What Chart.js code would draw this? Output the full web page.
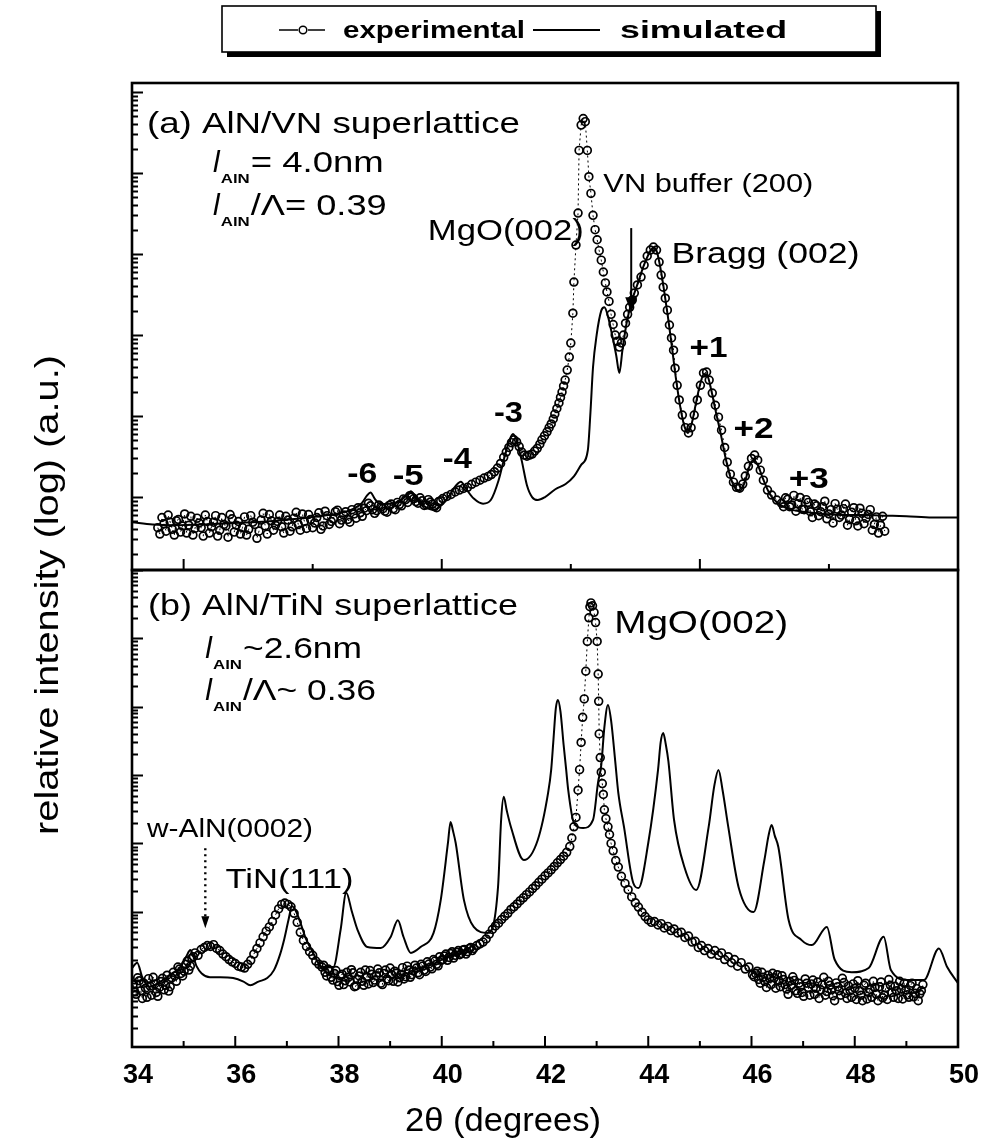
<!DOCTYPE html>
<html lang="en">
<head>
<meta charset="UTF-8">
<title>XRD scans of AlN/VN and AlN/TiN superlattices</title>
<script src="https://cdn.jsdelivr.net/npm/chart.js"></script>
<style>
  body { margin: 0; background: #fff; }
  #wrap { position: relative; width: 987px; height: 1148px; }
  #wrap canvas { position: absolute; left: 0; top: 0; }
</style>
</head>
<body>
<div id="wrap">
  <canvas id="panel-a" width="987" height="1148"></canvas>
  <canvas id="panel-b" width="987" height="1148"></canvas>
</div>
<script>
// ---- data: [2theta (deg), intensity (a.u.)]; rows are sorted by angle when plotted ----
const expA = [
  [34.50,4.2],[34.58,5.6],[34.66,3.8],[34.74,4.9],[34.82,3.4],[34.90,5.3],[34.98,4.4],[35.06,3.6],[35.14,5.8],[35.22,4.1],
  [35.30,4.8],[35.38,3.3],[35.46,5.0],[35.54,4.3],[35.62,5.9],[35.70,3.9],[35.78,4.6],[35.86,3.2],[35.94,5.4],[36.02,4.5],
  [36.10,3.5],[36.18,5.7],[36.26,4.0],[36.34,4.9],[36.42,3.1],[36.50,5.2],[36.58,4.4],[36.66,6.1],[36.74,3.9],[36.82,5.0],
  [36.90,4.3],[36.98,5.8],[37.06,3.8],[37.14,5.5],[37.22,4.6],[37.30,6.2],[37.38,4.1],[37.46,5.3],[37.54,4.8],[37.62,6.4],
  [37.70,4.4],[37.78,5.9],[37.86,5.0],[37.94,6.6],[38.02,4.7],[38.10,6.0],[38.18,5.3],[38.26,7.0],[38.34,5.5],[38.42,6.4],
  [38.50,7.3],[38.58,8.4],[38.66,7.0],[38.74,6.8],[38.82,7.6],[38.90,6.7],[38.98,7.9],[39.06,7.2],[39.14,8.6],[39.22,7.8],
  [39.30,9.3],[39.38,10.4],[39.46,9.6],[39.54,8.4],[39.62,9.0],[39.70,8.0],[39.78,8.7],[39.86,7.6],[39.94,8.8],[40.02,9.6],
  [40.10,10.2],[40.18,10.8],[40.26,11.6],[40.34,12.2],[40.42,12.8],[40.50,13.2],[40.58,14.4],[40.66,15.3],[40.74,16.2],[40.82,17.2],
  [40.90,18.0],[40.96,19.0],[41.02,20.5],[41.08,22.8],[41.14,26],[41.20,31],[41.25,36],[41.30,41],[41.35,47],[41.40,51],
  [41.45,48],[41.50,42],[41.55,36],[41.60,33],[41.65,32],[41.70,33],[41.75,34],[41.80,37],[41.85,40],[41.90,45],
  [41.94,51],[41.99,57],[42.04,64],[42.08,72],[42.12,80],[42.16,92],[42.19,106],[42.23,124],[42.27,145],[42.30,170],
  [42.33,198],[42.36,235],[42.39,278],[42.43,370],[42.47,535],[42.50,795],[42.54,1860],[42.56,4500],[42.60,12900],[42.64,32000],
  [42.66,190000],[42.70,390000],[42.74,470000],[42.78,430000],[42.82,190000],[42.85,90000],[42.89,56000],[42.93,30000],[42.97,20000],[43.01,15000],
  [43.05,11000],[43.09,8400],[43.13,6000],[43.17,4400],[43.20,3400],[43.24,2600],[43.28,1800],[43.32,1350],[43.36,1000],[43.40,840],
  [43.44,710],[43.48,800],[43.52,1000],[43.56,1400],[43.60,1800],[43.64,2200],[43.69,2700],[43.73,3300],[43.79,4150],[43.86,5200],
  [43.92,7300],[43.98,9450],[44.04,11200],[44.10,12200],[44.16,11200],[44.21,7950],[44.25,5500],[44.29,3900],[44.33,2850],[44.37,2030],
  [44.41,1330],[44.45,920],[44.49,650],[44.52,390],[44.56,240],[44.60,158],[44.66,103],[44.72,72],[44.78,62],[44.83,72],
  [44.89,103],[44.95,158],[45.01,240],[45.07,340],[45.13,350],[45.18,278],[45.24,192],[45.30,136],[45.36,97],[45.42,67],
  [45.48,41],[45.53,27],[45.59,19.2],[45.65,15.3],[45.71,13.2],[45.77,12.9],[45.83,14.5],[45.88,18.2],[45.94,24],[46.00,30],
  [46.06,33],[46.12,28.6],[46.17,21.5],[46.23,16.2],[46.31,12.2],[46.39,10.6],[46.49,9.2],[46.58,8.4],[46.66,9.8],[46.74,7.6],
  [46.82,10.5],[46.90,8.3],[46.98,7.1],[47.06,9.3],[47.14,6.6],[47.22,8.2],[47.30,5.9],[47.38,7.6],[47.46,5.4],[47.54,7.0],
  [47.62,8.3],[47.70,5.6],[47.78,7.2],[47.86,4.5],[47.94,6.5],[48.02,5.1],[48.10,7.3],[48.18,4.7],[48.26,6.1],[48.34,3.9],
  [48.42,5.7],[48.50,4.5],[48.58,3.8],
  // in-between readings across the noisy background
  [34.54,3.5],[34.62,4.7],[34.70,6.0],[34.78,4.0],[34.86,5.1],[34.94,3.7],[35.02,6.2],[35.10,4.5],[35.18,3.4],[35.26,5.5],
  [35.34,4.2],[35.42,6.0],[35.50,3.6],[35.58,4.9],[35.66,3.3],[35.74,5.6],[35.82,4.4],[35.90,6.1],[35.98,3.7],[36.06,5.0],
  [36.14,4.2],[36.22,3.4],[36.30,5.9],[36.38,4.6],[36.46,3.8],[36.54,6.3],[36.62,3.5],[36.70,5.1],[36.78,4.5],[36.86,6.0],
  [36.94,3.6],[37.02,5.2],[37.10,4.3],[37.18,6.5],[37.26,3.9],[37.34,5.0],[37.42,6.1],[37.50,4.2],[37.58,5.6],[37.66,4.0],
  [37.74,6.7],[37.82,4.6],[37.90,5.4],[37.98,6.9],[38.06,5.2],[38.14,6.6],[38.22,4.9],[38.30,6.2],[38.38,7.4],[38.46,5.8],
  [38.54,6.8],[38.62,7.8],[38.70,6.3],[38.78,8.0],[38.86,7.2],[38.94,6.5],[39.02,8.2],[39.10,7.0],[39.18,8.1],[39.26,9.5],
  [39.34,8.6],[39.42,10.0],[39.50,8.8],[39.58,9.8],[39.66,7.9],[39.74,9.3],[39.82,8.2],[39.90,7.4],[39.98,9.0],
  [46.62,7.6],[46.70,9.4],[46.78,8.0],[46.86,6.7],[46.94,9.9],[47.02,7.0],[47.10,8.6],[47.18,5.6],[47.26,7.8],[47.34,6.6],
  [47.42,8.9],[47.50,6.2],[47.58,4.8],[47.66,7.1],[47.74,6.0],[47.82,8.2],[47.90,5.3],[47.98,7.4],[48.06,4.4],[48.14,6.3],
  [48.22,5.5],[48.30,7.0],[48.38,4.6],[48.46,3.6],[48.54,5.8]
];

const simA = [
  [34.00,4.9],[34.40,4.6],[34.80,4.5],[35.40,4.6],[36.00,4.8],[36.60,5.0],[37.20,5.4],[37.80,6.0],[38.20,6.8],[38.45,8.4],
  [38.55,10.4],[38.62,11.4],[38.70,9.6],[38.80,8.2],[39.00,8.3],[39.20,9.0],[39.32,10.6],[39.40,11.8],[39.50,9.8],[39.65,7.8],
  [39.84,7.0],[40.00,8.0],[40.15,10.5],[40.28,14.0],[40.37,15.5],[40.48,12.4],[40.62,9.6],[40.80,8.3],[40.95,9.2],[41.10,16],
  [41.22,32],[41.30,48],[41.38,60],[41.45,50],[41.55,28],[41.65,14],[41.75,10],[41.86,9.2],[42.00,10.0],[42.20,12.5],
  [42.40,14.5],[42.56,18],[42.70,25],[42.83,38],[42.88,110],[42.93,400],[43.00,1000],[43.09,2000],[43.15,2200],[43.22,1700],
  [43.30,1000],[43.38,560],[43.44,340],[43.50,650],[43.58,1400],[43.68,2600],[43.80,4400],[43.92,7400],[44.04,10800],[44.10,12000],
  [44.17,10500],[44.24,6500],[44.30,3800],[44.38,1700],[44.46,700],[44.54,280],[44.62,130],[44.70,75],[44.77,62],[44.84,80],
  [44.92,140],[45.00,240],[45.08,330],[45.14,320],[45.22,210],[45.30,120],[45.40,62],[45.50,30],[45.60,17],[45.70,12.5],
  [45.78,12],[45.88,16],[45.96,24],[46.04,29],[46.12,25],[46.22,17],[46.35,11],[46.50,8.5],[46.70,7.2],[47.00,6.6],
  [47.40,6.2],[47.80,6.0],[48.20,6.0],[48.60,5.9],[49.00,5.8],[49.50,5.6],[50.00,5.6]
];

const expB = [
  [34.02,8.5],[34.08,6.2],[34.14,9.8],[34.20,5.4],[34.26,7.6],[34.32,10.5],[34.38,6.0],[34.44,8.8],[34.50,5.8],[34.56,9.5],
  [34.62,7.2],[34.68,11.8],[34.74,8.0],[34.80,13.0],[34.86,9.6],[34.92,14.5],[34.98,11.5],[35.04,17],[35.10,14],[35.16,21],
  [35.22,25],[35.28,23],[35.34,28],[35.40,30],[35.46,32],[35.52,31],[35.58,33],[35.64,29],[35.70,27],[35.76,24],
  [35.82,22],[35.88,20],[35.94,18.5],[36.00,17.5],[36.06,16],[36.12,15.5],[36.18,15],[36.24,17],[36.30,19.5],[36.36,24],
  [36.42,29],[36.48,35],[36.54,43],[36.60,52],[36.66,60],[36.72,72],[36.78,90],[36.84,110],[36.90,128],[36.96,134],
  [37.02,128],[37.08,118],[37.14,95],[37.20,70],[37.26,50],[37.32,38],[37.38,31],[37.44,26],[37.50,23],[37.56,19],
  [37.62,17],[37.68,15.5],[37.74,13],[37.80,14.5],[37.86,11],[37.92,12.5],[37.98,9.5],[38.04,11.5],[38.10,8.6],[38.16,13],
  [38.22,9.4],[38.28,12.8],[38.34,8.2],[38.40,11.5],[38.46,9.6],[38.52,14],[38.58,8.8],[38.64,12.2],[38.70,10.0],[38.76,14.5],
  [38.82,9.0],[38.88,12.5],[38.94,10.4],[39.00,15],[39.06,9.6],[39.12,12.6],[39.18,10.8],[39.24,15.2],[39.30,11.2],[39.36,14],
  [39.42,12.0],[39.48,16.5],[39.54,12.8],[39.60,17],[39.66,14],[39.72,18.5],[39.78,15.5],[39.84,20],[39.90,17],[39.96,22],
  [40.02,20],[40.08,24],[40.14,21.5],[40.20,26],[40.26,23],[40.32,27],[40.38,24.5],[40.44,28],[40.50,26],[40.56,30],
  [40.62,29],[40.68,32],[40.74,34],[40.80,36],[40.86,40],[40.92,47],[40.98,55],[41.04,62],[41.10,68],[41.16,77],
  [41.22,86],[41.28,95],[41.34,108],[41.40,118],[41.46,130],[41.52,145],[41.58,160],[41.64,178],[41.70,195],[41.76,218],
  [41.82,240],[41.88,270],[41.94,300],[42.00,335],[42.06,370],[42.12,410],[42.18,460],[42.24,520],[42.30,580],[42.36,650],
  [42.42,740],[42.48,900],[42.52,1200],[42.56,1750],[42.60,2400],[42.64,6000],[42.67,12000],[42.70,30000],[42.73,70000],[42.76,130000],
  [42.79,330000],[42.82,900000],[42.85,2000000],[42.87,2900000],[42.89,3300000],[42.92,3000000],[42.95,2400000],[42.98,1700000],[43.01,900000],[43.03,300000],
  [43.04,120000],[43.05,40000],[43.07,18000],[43.09,11000],[43.11,7500],[43.13,5200],[43.15,3100],[43.18,2300],[43.22,1750],[43.25,1350],
  [43.28,1000],[43.32,780],[43.37,560],[43.42,450],[43.48,330],[43.55,260],[43.61,210],[43.68,165],[43.75,135],[43.81,117],
  [43.88,98],[43.94,85],[44.00,76],[44.06,70],[44.12,72],[44.19,64],[44.25,67],[44.31,58],[44.38,61],[44.44,53],
  [44.50,56],[44.57,49],[44.64,50],[44.71,42],[44.78,44],[44.85,36],[44.91,37],[44.97,30],[45.03,32],[45.09,27],
  [45.16,29],[45.22,24],[45.29,27],[45.36,23],[45.42,25],[45.48,20],[45.55,22],[45.61,18],[45.67,20],[45.73,16],
  [45.80,18],[45.88,14.5],[45.95,15.5],[46.02,12],[46.08,12.5],[46.14,10.2],[46.20,13.0],[46.26,9.5],[46.32,11.8],[46.38,8.6],
  [46.44,10.8],[46.50,12.0],[46.56,8.0],[46.62,10.2],[46.68,7.4],[46.74,9.6],[46.80,11.2],[46.86,7.0],[46.92,9.0],[46.98,6.6],
  [47.04,10.4],[47.10,7.8],[47.16,8.8],[47.22,6.2],[47.28,9.4],[47.34,7.2],[47.40,11.0],[47.46,6.8],[47.52,8.4],[47.58,5.9],
  [47.64,9.1],[47.70,7.0],[47.76,10.6],[47.82,6.4],[47.88,8.2],[47.94,5.6],[48.00,7.6],[48.06,9.8],[48.12,6.0],[48.18,8.4],
  [48.24,5.3],[48.30,7.3],[48.36,9.6],[48.42,6.2],[48.48,8.0],[48.54,5.5],[48.60,7.7],[48.66,10.2],[48.72,6.6],[48.78,8.1],
  [48.84,5.4],[48.90,7.4],[48.96,9.0],[49.02,6.1],[49.08,8.3],[49.14,5.7],[49.20,7.5],[49.26,6.3],[49.32,8.6],
  // in-between readings across the noisy background
  [34.05,6.8],[34.11,10.8],[34.17,7.0],[34.23,9.0],[34.29,5.6],[34.35,8.2],[34.41,11.0],[34.47,6.6],[34.53,7.8],[34.59,10.6],
  [34.65,8.4],[34.71,6.9],[34.77,10.8],[34.83,11.5],[34.89,15.5],[34.95,12.5],[35.01,13.5],[35.07,19],[35.13,16],[35.19,22],
  [37.71,16.5],[37.77,11.5],[37.83,13.5],[37.89,10.0],[37.95,13.8],[38.01,8.4],[38.07,12.2],[38.13,9.8],[38.19,11.0],[38.25,14.2],
  [38.31,8.0],[38.37,10.2],[38.43,13.0],[38.49,8.4],[38.55,11.2],[38.61,13.8],[38.67,9.2],[38.73,11.6],[38.79,12.8],[38.85,8.6],
  [38.91,14.0],[38.97,9.8],[39.03,12.0],[39.09,13.5],[39.15,9.4],[39.21,12.2],[39.27,10.4],[39.33,16.0],[39.39,11.0],[39.45,13.6],
  [39.51,15.0],[39.57,12.0],[39.63,16.0],[39.69,13.4],[39.75,17.2],[39.81,14.6],[39.87,19.0],[39.93,16.2],[39.99,19.5],[40.05,22.5],
  [40.11,19.5],[40.17,24.5],[40.23,21.0],[40.29,25.5],[40.35,23.5],[40.41,27.5],[40.47,24],[40.53,29],[40.59,27],
  [46.05,11.2],[46.11,13.5],[46.17,9.0],[46.23,11.0],[46.29,7.8],[46.35,10.6],[46.41,12.6],[46.47,7.6],[46.53,9.8],[46.59,11.6],
  [46.65,8.6],[46.71,6.2],[46.77,8.4],[46.83,9.9],[46.89,6.4],[46.95,8.0],[47.01,5.8],[47.07,9.0],[47.13,6.0],[47.19,10.0],
  [47.25,7.6],[47.31,5.4],[47.37,8.6],[47.43,6.0],[47.49,9.6],[47.55,7.2],[47.61,5.0],[47.67,8.0],[47.73,6.0],[47.79,9.2],
  [47.85,5.4],[47.91,7.0],[47.97,8.8],[48.03,5.2],[48.09,7.0],[48.15,5.0],[48.21,9.0],[48.27,6.6],[48.33,5.6],[48.39,7.8],
  [48.45,5.0],[48.51,9.4],[48.57,6.0],[48.63,5.2],[48.69,8.4],[48.75,5.6],[48.81,7.0],[48.87,9.6],[48.93,5.3],[48.99,7.2],
  [49.05,5.6],[49.11,9.0],[49.17,6.4],[49.23,5.0],[49.29,7.0]
];

const simB = [
  [34.00,15],[34.10,18],[34.20,11],[34.33,8],[34.55,9.5],[34.75,12],[34.95,16],[35.05,22],[35.13,27.5],[35.25,16],
  [35.35,12.5],[35.51,11],[35.71,11],[35.96,10.7],[36.16,9.5],[36.29,8.4],[36.45,9.5],[36.62,10.7],[36.75,14],[36.87,24],
  [36.95,40],[37.03,75],[37.10,120],[37.18,100],[37.26,70],[37.37,40],[37.48,27.5],[37.69,15.5],[37.90,15.5],[38.04,54],
  [38.15,190],[38.26,100],[38.37,54],[38.56,30.4],[38.82,29.4],[39.01,42.7],[39.15,75],[39.26,42.7],[39.40,25],[39.59,30.4],
  [39.84,48.8],[39.98,148],[40.12,1014],[40.17,2057],[40.22,1500],[40.27,1014],[40.43,148],[40.62,60],[40.89,49],[41.09,229],
  [41.15,2200],[41.20,4800],[41.26,3000],[41.34,1740],[41.59,571],[41.86,1122],[42.06,5470],[42.12,12000],[42.16,30000],[42.21,95000],
  [42.25,125800],[42.30,85000],[42.36,28000],[42.41,12000],[42.45,6000],[42.56,1990],[42.74,1680],[42.93,2200],[43.03,8000],[43.09,14000],
  [43.15,50000],[43.22,106000],[43.28,63000],[43.36,16000],[43.42,5500],[43.53,1740],[43.71,263],[43.81,222],[44.00,1014],[44.19,12000],
  [44.24,30000],[44.29,41300],[44.34,28000],[44.39,16000],[44.50,2200],[44.70,451],[44.93,208],[45.17,1740],[45.28,7000],[45.36,11900],
  [45.44,6000],[45.55,1740],[45.75,229],[46.04,99],[46.25,571],[46.33,1300],[46.39,1860],[46.45,1300],[46.52,885],[46.72,75],
  [46.97,38.5],[47.17,32.5],[47.46,60],[47.61,20],[47.94,13],[48.27,15],[48.56,43],[48.70,14],[49.03,10],[49.34,10],
  [49.63,29],[49.79,15.5],[50.00,9]
];

// axis limits and tick positions
const xRange = [34, 50];
const yRangeA = [1.26, 1.29e6];
const yRangeB = [1.05, 1.0e7];
const xTickLabels = [34, 36, 38, 40, 42, 44, 46, 48, 50];
const xMinorTicksB = [35, 37, 39, 41, 43, 45, 47, 49];
const xTicksA = [35, 40, 45];
const xMinorTicksA = [37.5, 42.5, 47.5];

// text placed at (2theta, log10 intensity)
const labelsA = [
  { text: '(a) AlN/VN superlattice', x: 34.29, y: 5.49, w: 373, size: 30 },
  { text: 'MgO(002)', x: 39.73, y: 4.17, w: 156, size: 29 },
  { text: 'VN buffer (200)', x: 43.13, y: 4.77, w: 210, size: 26 },
  { text: 'Bragg (002)', x: 44.45, y: 3.89, w: 188, size: 30 },
  { text: '+1', x: 44.80, y: 2.73, w: 38, size: 30, weight: 'bold' },
  { text: '+2', x: 45.65, y: 1.73, w: 40, size: 30, weight: 'bold' },
  { text: '+3', x: 46.72, y: 1.11, w: 40, size: 30, weight: 'bold' },
  { text: '-3', x: 41.01, y: 1.93, w: 29, size: 30, weight: 'bold' },
  { text: '-4', x: 40.02, y: 1.36, w: 29, size: 30, weight: 'bold' },
  { text: '-5', x: 39.05, y: 1.15, w: 31, size: 30, weight: 'bold' },
  { text: '-6', x: 38.17, y: 1.17, w: 30, size: 30, weight: 'bold' }
];
const paramsA = [
  { x: 35.57, y: 5.01, tail: '= 4.0nm', w: 133 },
  { x: 35.57, y: 4.48, tail: '/\u039B= 0.39', w: 136 }
];
const labelsB = [
  { text: '(b) AlN/TiN superlattice', x: 34.31, y: 6.34, w: 370, size: 30 },
  { text: 'MgO(002)', x: 43.34, y: 6.08, w: 174, size: 32 },
  { text: 'w-AlN(0002)', x: 34.29, y: 3.09, w: 166, size: 25 },
  { text: 'TiN(111)', x: 35.81, y: 2.35, w: 128, size: 27 }
];
const paramsB = [
  { x: 35.42, y: 5.71, tail: '~2.6nm', w: 119 },
  { x: 35.42, y: 5.10, tail: '/\u039B~ 0.36', w: 133 }
];

const FONT = "'Liberation Sans', Arial, Helvetica, sans-serif";
Chart.defaults.font.family = FONT;
Chart.defaults.color = '#000';

// draw text squeezed or widened to a given width
function fitText(ctx, text, x, y, width, size, weight, style) {
  ctx.save();
  ctx.font = `${style || 'normal'} ${weight || 'normal'} ${size}px ${FONT}`;
  const natural = ctx.measureText(text).width;
  const sx = width ? width / natural : 1;
  ctx.translate(x, y);
  ctx.scale(sx, 1);
  ctx.fillStyle = '#000';
  ctx.textBaseline = 'alphabetic';
  ctx.fillText(text, 0, 0);
  ctx.restore();
  return natural * sx;
}

function logTicks(min, max) {
  const out = [];
  for (let e = Math.floor(Math.log10(min)); e <= Math.ceil(Math.log10(max)); e++) {
    for (let m = 1; m <= 9; m++) {
      const v = m * Math.pow(10, e);
      if (v >= min && v <= max) out.push({ v, major: m === 1 });
    }
  }
  return out;
}

function arrowHead(ctx, x, tipY, half, len) {
  ctx.beginPath();
  ctx.moveTo(x, tipY);
  ctx.lineTo(x - half, tipY - len);
  ctx.lineTo(x + half, tipY - len);
  ctx.closePath();
  ctx.fill();
}

// frame, inward ticks and annotations for each panel
const panelPlugin = {
  id: 'panel',
  afterDatasetsDraw(chart, args, opts) {
    const { ctx, chartArea: a } = chart;
    const xs = chart.scales.x, ys = chart.scales.y;
    const px = v => xs.getPixelForValue(v);
    const py = l => ys.getPixelForValue(Math.pow(10, l));
    ctx.save();
    ctx.strokeStyle = '#000';
    ctx.fillStyle = '#000';

    // log ticks on the left edge
    ctx.lineWidth = 2;
    ctx.beginPath();
    logTicks(ys.min, ys.max).forEach(t => {
      const y = Math.round(ys.getPixelForValue(t.v)) + 0.5;
      ctx.moveTo(a.left, y);
      ctx.lineTo(a.left + (t.major ? 11 : 6), y);
    });
    // 2theta ticks on the bottom edge
    opts.major.forEach(v => { ctx.moveTo(px(v), a.bottom); ctx.lineTo(px(v), a.bottom - 11); });
    opts.minor.forEach(v => { ctx.moveTo(px(v), a.bottom); ctx.lineTo(px(v), a.bottom - 6); });
    ctx.stroke();

    ctx.lineWidth = 2.6;
    ctx.strokeRect(a.left, a.top, a.right - a.left, a.bottom - a.top);

    opts.labels.forEach(l => fitText(ctx, l.text, px(l.x), py(l.y), l.w, l.size, l.weight));
    opts.params.forEach(p => {
      const x = px(p.x), y = py(p.y);
      const lw = fitText(ctx, 'l', x, y, 0, 30, 'normal', 'italic');
      fitText(ctx, 'AlN', x + lw + 1, y + 11, 29, 13, 'bold');
      fitText(ctx, p.tail, x + lw + 31, y, p.w, 30);
    });
    if (opts.extra) opts.extra(ctx, px, py, a);
    ctx.restore();
  }
};

// legend box and y title, drawn once on the upper canvas
const pagePlugin = {
  id: 'page',
  afterDraw(chart) {
    const ctx = chart.ctx;
    ctx.save();
    ctx.fillStyle = '#000';
    ctx.fillRect(227, 11, 654, 46);
    ctx.fillStyle = '#fff';
    ctx.fillRect(222, 6, 654, 46);
    ctx.strokeStyle = '#000';
    ctx.lineWidth = 1.6;
    ctx.strokeRect(222, 6, 654, 46);

    ctx.lineWidth = 1.5;
    ctx.beginPath();
    ctx.moveTo(279, 30); ctx.lineTo(298, 30);
    ctx.moveTo(308, 30); ctx.lineTo(325, 30);
    ctx.stroke();
    ctx.beginPath();
    ctx.arc(303, 30, 3.8, 0, Math.PI * 2);
    ctx.stroke();
    ctx.lineWidth = 2;
    ctx.beginPath();
    ctx.moveTo(533, 30); ctx.lineTo(600, 30);
    ctx.stroke();
    fitText(ctx, 'experimental', 343, 38, 182, 24, 'bold');
    fitText(ctx, 'simulated', 620, 38, 167, 24, 'bold');

    // vertical axis title, shared by both panels
    ctx.translate(58, 595);
    ctx.rotate(-Math.PI / 2);
    ctx.font = `34px ${FONT}`;
    const w = ctx.measureText('relative intensity (log) (a.u.)').width;
    ctx.scale(480 / w, 1);
    ctx.fillStyle = '#000';
    ctx.textAlign = 'center';
    ctx.textBaseline = 'alphabetic';
    ctx.fillText('relative intensity (log) (a.u.)', 0, 0);
    ctx.restore();
  }
};

const pts = rows => rows.slice().sort((p, q) => p[0] - q[0]).map(r => ({ x: r[0], y: r[1] }));

function datasets(exp, sim) {
  return [
    {
      label: 'simulated', data: pts(sim), borderColor: '#000', borderWidth: 2,
      pointRadius: 0, cubicInterpolationMode: 'monotone', fill: false
    },
    {
      label: 'experimental', data: pts(exp), borderColor: '#000', borderWidth: 1,
      borderDash: [2, 3], pointStyle: 'circle', pointRadius: 3.9, pointBorderWidth: 1.7,
      pointBorderColor: '#000', pointBackgroundColor: 'rgba(255,255,255,0)', tension: 0, fill: false
    }
  ];
}

function options(yRange, padding, panel, xAxis) {
  return {
    responsive: false,
    animation: false,
    events: [],
    layout: { padding },
    plugins: { legend: { display: false }, tooltip: { enabled: false }, panel },
    scales: {
      x: xAxis,
      y: { type: 'logarithmic', min: yRange[0], max: yRange[1], display: false }
    }
  };
}

new Chart(document.getElementById('panel-a'), {
  type: 'line',
  data: { datasets: datasets(expA, simA) },
  options: options(yRangeA, { left: 132, right: 29, top: 83, bottom: 578 }, {
    major: xTicksA, minor: xMinorTicksA, labels: labelsA, params: paramsA,
    extra(ctx, px, py) {
      // arrow pointing at the VN buffer reflection
      const x = px(43.67), y1 = py(4.32), y2 = py(3.28);
      ctx.lineWidth = 2;
      ctx.beginPath(); ctx.moveTo(x, y1); ctx.lineTo(x, y2 - 10); ctx.stroke();
      arrowHead(ctx, x, y2, 6, 15);
    }
  }, { type: 'linear', min: xRange[0], max: xRange[1], display: false }),
  plugins: [panelPlugin, pagePlugin]
});

new Chart(document.getElementById('panel-b'), {
  type: 'line',
  data: { datasets: datasets(expB, simB) },
  options: options(yRangeB, { left: 132, right: 29, top: 570, bottom: 0 }, {
    major: xTickLabels, minor: xMinorTicksB, labels: labelsB, params: paramsB,
    extra(ctx, px, py, a) {
      // dotted arrow marking the wurtzite AlN position
      const x = px(35.42), y1 = py(2.93), y2 = py(1.76);
      ctx.lineWidth = 2.4;
      ctx.setLineDash([2, 4]);
      ctx.beginPath(); ctx.moveTo(x, y1); ctx.lineTo(x, y2 - 10); ctx.stroke();
      ctx.setLineDash([]);
      arrowHead(ctx, x, y2, 4, 12);
      // horizontal axis title, set left of centre
      fitText(ctx, '2\u03B8 (degrees)', 405, a.bottom + 84, 196, 34);
    }
  }, {
    type: 'linear', min: xRange[0], max: xRange[1],
    afterBuildTicks: s => { s.ticks = xTickLabels.map(v => ({ value: v })); },
    afterFit: s => { s.height = 101; },
    grid: { drawOnChartArea: false, drawTicks: false },
    border: { display: false },
    ticks: { autoSkip: false, maxRotation: 0, padding: 12, labelOffset: 6, color: '#000', font: { size: 27, weight: 'bold' } }
  }),
  plugins: [panelPlugin]
});
</script>
</body>
</html>
